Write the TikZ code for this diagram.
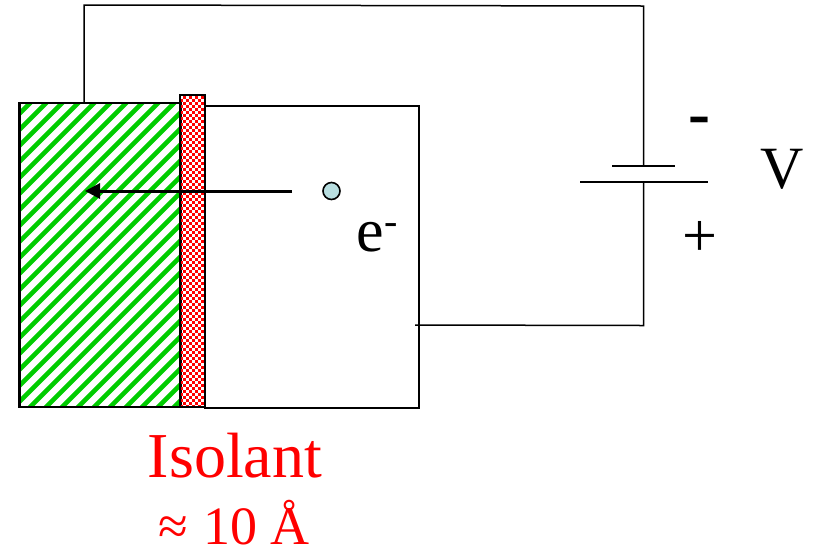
\documentclass[tikz,border=0pt]{standalone}
\usepackage{fontspec}
\setmainfont{Liberation Serif}
\usetikzlibrary{arrows.meta}
\definecolor{hatchgreen}{RGB}{0,204,0}
\definecolor{dotblue}{RGB}{184,222,224}
\tikzset{
  px/.style={x=1pt,y=-1pt},
  wire/.style={draw=black,line width=1.5pt},
  panel/.style={draw=black,inner sep=0pt,outer sep=0pt,anchor=north west},
  txt/.style={inner sep=0pt,outer sep=0pt,anchor=base},
}
\newcommand{\fsz}[1]{\fontsize{#1}{#1}\selectfont}
\begin{document}
\begin{tikzpicture}[px]
\useasboundingbox (0,0) rectangle (814,550);
% white box
\node[panel,line width=2pt,minimum width=214.5pt,minimum height=302pt] (box) at (204.5,105.5) {};
% green hatched electrode
\begin{scope}
\clip (20,103) rectangle (180,407);
\foreach \k in {0,...,36}{
  \draw[hatchgreen,line width=4.6pt] (\k*16+5,96) -- (\k*16-335,436);
}
\end{scope}
\node[panel,line width=2.6pt,minimum width=161pt,minimum height=304pt] (metal) at (19.5,103) {};
% red checked insulator
\begin{scope}
\clip (180,95) rectangle (205,407);
\foreach \c in {0,2,4,6,8}{
  \draw[red,line width=3pt,dash pattern=on 3pt off 3pt] ({180+(\c+0.5)*3},93) -- ({180+(\c+0.5)*3},410);
}
\foreach \c in {1,3,5,7}{
  \draw[red,line width=3pt,dash pattern=on 3pt off 3pt] ({180+(\c+0.5)*3},96) -- ({180+(\c+0.5)*3},410);
}
\end{scope}
\node[panel,line width=2pt,minimum width=25pt,minimum height=312pt] (iso) at (180,95) {};
% battery and wires
\coordinate (tapA) at (84,103);
\coordinate (c1) at (84,5);
\coordinate (c2) at (643.5,6);
\coordinate (minusplate) at (643.5,166);
\coordinate (plusplate) at (643.5,182);
\coordinate (c3) at (643.5,325.5);
\coordinate (tapB) at (415,325);
\draw[wire] (tapA) -- (c1) -- (c2) -- (minusplate);
\draw[wire] (plusplate) -- (c3) -- (tapB);
\draw[wire] (612,166) -- (675,166);
\draw[wire] (580,182) -- (708,182);
% electron
\node[circle,draw=black,line width=1.6pt,fill=dotblue,minimum size=17pt,inner sep=0pt,outer sep=0pt] (electron) at (331.5,191) {};
\coordinate (arrstart) at (292,191);
\coordinate (arrend) at (85,191);
\draw[line width=3pt,-{Triangle[length=15pt,width=15pt]}] (arrstart) -- (arrend);
% texts
\node[txt] (eminus) at (377,251) {\fsz{62}e\raisebox{17pt}{\fsz{40}-}};
\node[txt] (minus) at (699.5,135) {\fsz{66}\textbf{-}};
\node[txt] (plus) at (699.5,256) {\fsz{62}+};
\node[txt] (vlabel) at (782,188) {\fsz{60}V};
\node[txt,text=red] (isolant) at (235,477) {\fsz{64}Isolant};
\node[txt,text=red] (tenA) at (234,544.5) {\fsz{54}≈\hspace{1.5pt} 10 Å};
\end{tikzpicture}
\end{document}
